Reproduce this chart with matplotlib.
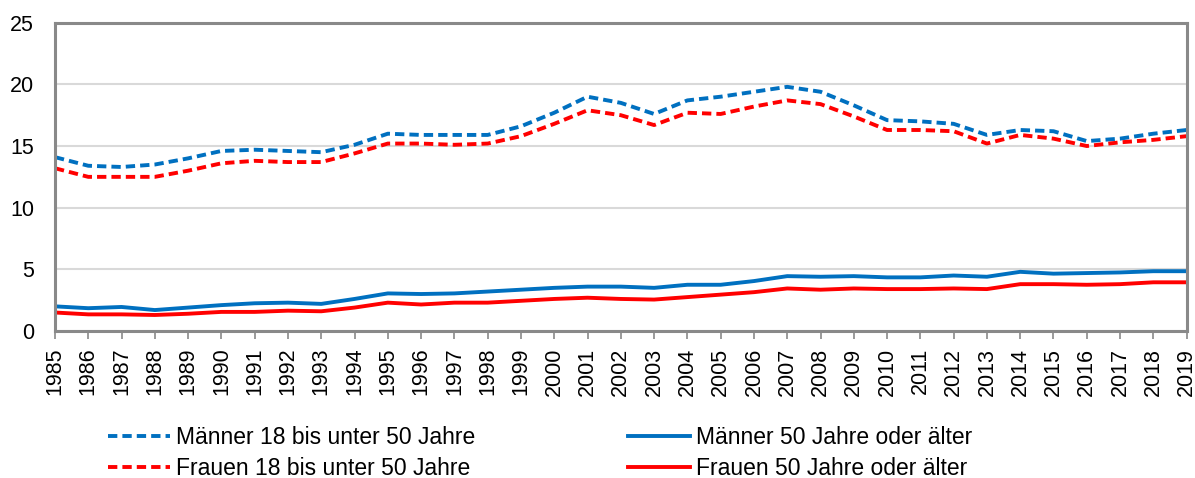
import matplotlib
matplotlib.use('Agg')
import matplotlib.pyplot as plt

plt.rcParams['font.family'] = ['Liberation Sans', 'DejaVu Sans']

years = list(range(1985, 2020))
maenner_jung = [14.1, 13.4, 13.3, 13.5, 14.0, 14.6, 14.7, 14.6, 14.5, 15.1,
                16.0, 15.9, 15.9, 15.9, 16.6, 17.7, 19.0, 18.5, 17.6, 18.7,
                19.0, 19.4, 19.8, 19.4, 18.3, 17.1, 17.0, 16.8, 15.9, 16.3,
                16.2, 15.4, 15.6, 16.0, 16.3]
frauen_jung = [13.2, 12.5, 12.5, 12.5, 13.0, 13.6, 13.8, 13.7, 13.7, 14.4,
               15.2, 15.2, 15.1, 15.2, 15.8, 16.8, 17.9, 17.5, 16.7, 17.7,
               17.6, 18.2, 18.7, 18.4, 17.4, 16.3, 16.3, 16.2, 15.2, 15.9,
               15.6, 15.0, 15.3, 15.5, 15.8]
maenner_alt = [2.0, 1.85, 1.95, 1.7, 1.9, 2.1, 2.25, 2.3, 2.2, 2.6,
               3.05, 3.0, 3.05, 3.2, 3.35, 3.5, 3.6, 3.6, 3.5, 3.75,
               3.75, 4.05, 4.45, 4.4, 4.45, 4.35, 4.35, 4.5, 4.4, 4.8,
               4.65, 4.7, 4.75, 4.85, 4.85]
frauen_alt = [1.5, 1.35, 1.35, 1.3, 1.4, 1.55, 1.55, 1.65, 1.6, 1.9,
              2.3, 2.15, 2.3, 2.3, 2.45, 2.6, 2.7, 2.6, 2.55, 2.75,
              2.95, 3.15, 3.45, 3.35, 3.45, 3.4, 3.4, 3.45, 3.4, 3.8,
              3.8, 3.75, 3.8, 3.95, 3.95]

blau = '#0070c0'
rot = '#ff0000'
strich = (0, (2.4, 1.3))

fig = plt.figure(figsize=(11.95, 4.78), dpi=100)
ax = fig.add_axes([0.046, 0.3075, 0.947, 0.645])

l1, = ax.plot(years, maenner_jung, color=blau, lw=2.8, ls=strich,
              label='Männer 18 bis unter 50 Jahre')
l2, = ax.plot(years, maenner_alt, color=blau, lw=2.8,
              label='Männer 50 Jahre oder älter')
l3, = ax.plot(years, frauen_jung, color=rot, lw=2.8, ls=strich,
              label='Frauen 18 bis unter 50 Jahre')
l4, = ax.plot(years, frauen_alt, color=rot, lw=2.8,
              label='Frauen 50 Jahre oder älter')

ax.set_xlim(1985, 2019)
ax.set_ylim(0, 25)
ax.set_yticks(range(0, 26, 5))
ax.set_xticks(years)
ax.set_xticklabels([str(y) for y in years], rotation=90)
ax.tick_params(axis='y', length=0, labelsize=15.5, pad=15)
ax.tick_params(axis='x', length=6, width=1.2, color='#898989', labelsize=15.5, pad=6)
ax.grid(axis='y', color='#d9d9d9', lw=1.5)
ax.set_axisbelow(True)
for s in ax.spines.values():
    s.set_color('#898989')
    s.set_linewidth(2.2)

# zwei Legenden nebeneinander
opts = dict(frameon=False, fontsize=16.5, loc='upper left', handlelength=2.7,
            handletextpad=0.25, labelspacing=0.35, borderpad=0, borderaxespad=0)
fig.legend(handles=[l1, l3], bbox_to_anchor=(0.0904, 0.109), **opts)
fig.legend(handles=[l2, l4], bbox_to_anchor=(0.5255, 0.109), **opts)

plt.savefig('out.png', dpi=100)
